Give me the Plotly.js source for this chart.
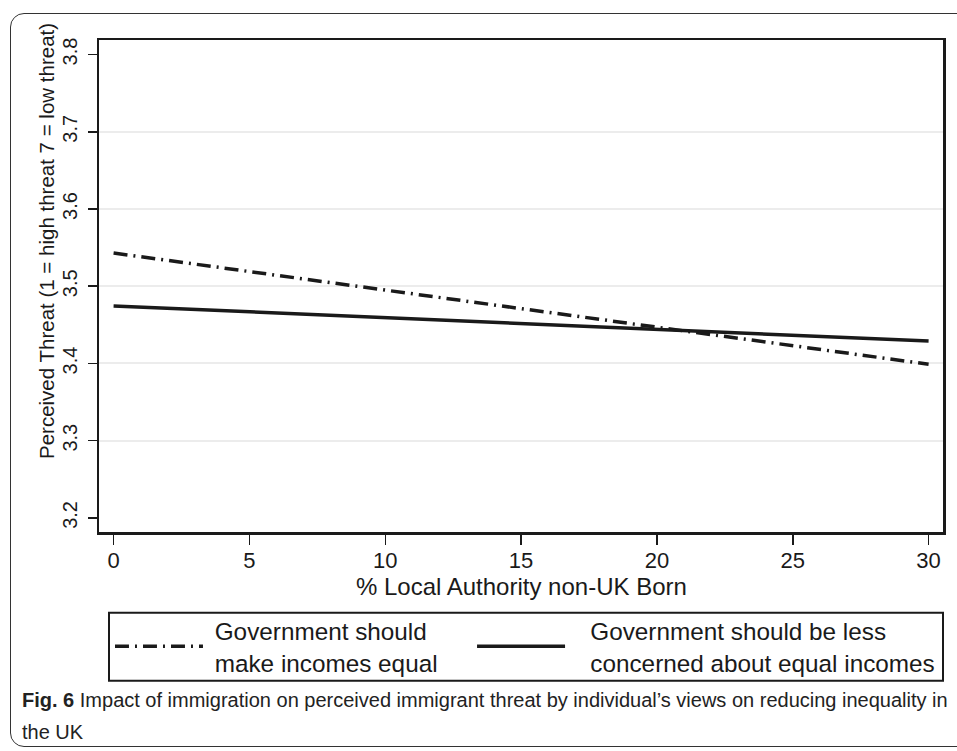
<!DOCTYPE html>
<html>
<head>
<meta charset="utf-8">
<script src="https://cdn.plot.ly/plotly-3.0.1.min.js"></script>
<style>
  html, body { margin: 0; padding: 0; background: #fff; }
  #wrap { position: relative; width: 957px; height: 751px; overflow: hidden; }
  #chart { position: absolute; left: 0; top: 0; width: 957px; height: 751px; }
  #frame { position: absolute; left: 10px; top: 13px; width: 1000px; height: 732px;
           border: 1.5px solid #333; border-radius: 14px; pointer-events: none; }
</style>
</head>
<body>
<div id="wrap">
  <div id="chart"></div>
  <div id="frame"></div>
</div>
<script>
// ---- data ----
const xPct = [0, 30];
const govEqual = [3.543, 3.399];
const govLess = [3.4745, 3.429];
const seriesNames = ["\u00a0Government should<br>\u00a0make incomes equal",
                     "\u00a0\u00a0\u00a0Government should be less<br>\u00a0\u00a0\u00a0concerned about equal incomes"];
const yTicks = [3.2, 3.3, 3.4, 3.5, 3.6, 3.7, 3.8];
const yTickText = ["3.2", "3.3", "3.4", "3.5", "3.6", "3.7", "3.8"];
const yGrid = [3.3, 3.4, 3.5, 3.6, 3.7];
const xTicks = [0, 5, 10, 15, 20, 25, 30];

const FONT = "Liberation Sans, Arial, Helvetica, sans-serif";
const INK = "#1a1a1a";
const YR = [3.1818, 3.8188];

const traces = [
  { x: [], y: [], yaxis: "y2", type: "scatter", mode: "lines", showlegend: false, hoverinfo: "skip" },
  { x: xPct, y: govEqual, type: "scatter", mode: "lines", name: seriesNames[0], legend: "legend",
    line: { color: INK, width: 3.5, dash: "14px,6px,2px,6px" } },
  { x: xPct, y: govLess, type: "scatter", mode: "lines", name: seriesNames[1], legend: "legend2",
    line: { color: INK, width: 3.5 } }
];

const legendCommon = {
  orientation: "h", xanchor: "left", yanchor: "middle", y: -0.2331,
  borderwidth: 0, bgcolor: "rgba(0,0,0,0)",
  font: { family: FONT, size: 24.3, color: INK }, itemwidth: 88
};

const layout = {
  width: 957, height: 751,
  margin: { l: 99, r: 14, t: 40, b: 219 },
  paper_bgcolor: "#fff", plot_bgcolor: "#fff",
  font: { family: FONT, color: INK },
  showlegend: true,
  legend: Object.assign({}, legendCommon, { x: 0.0130 }),
  legend2: Object.assign({}, legendCommon, { x: 0.4420 }),
  xaxis: {
    range: [-0.537, 30.53], tickmode: "array", tickvals: xTicks, ticktext: xTicks.map(String),
    showgrid: false, zeroline: false,
    showline: true, linecolor: INK, linewidth: 2.5, mirror: true,
    ticks: "outside", ticklen: 10, tickwidth: 1.5, tickcolor: INK,
    ticklabelstandoff: -3,
    tickfont: { family: FONT, size: 22, color: INK },
    automargin: false, fixedrange: true
  },
  yaxis: {
    range: YR, tickmode: "array", tickvals: yTicks, ticktext: yTickText, tickangle: -90,
    showgrid: false, zeroline: false,
    showline: true, linecolor: INK, linewidth: 2.5, mirror: true,
    ticks: "outside", ticklen: 9, tickwidth: 1.5, tickcolor: INK,
    ticklabelstandoff: 3,
    tickfont: { family: FONT, size: 20, color: INK },
    automargin: false, fixedrange: true
  },
  yaxis2: {
    overlaying: "y", range: YR, tickmode: "array",
    tickvals: yGrid, showticklabels: false, ticks: "",
    showgrid: true, gridcolor: "#ececec", gridwidth: 2,
    showline: false, zeroline: false, fixedrange: true
  },
  shapes: [
    { type: "rect", xref: "paper", yref: "paper",
      x0: 0.01185, x1: 1.0, y0: -0.1640, y1: -0.3022,
      line: { color: INK, width: 2 }, fillcolor: "rgba(0,0,0,0)" }
  ],
  annotations: [
    { xref: "paper", yref: "paper", x: -0.0616, y: 0.5915, xanchor: "center", yanchor: "middle",
      textangle: -90, showarrow: false,
      text: "Perceived Threat (1 = high threat 7 = low threat)",
      font: { family: FONT, size: 20.5, color: INK } },
    { xref: "paper", yref: "paper", x: 0.5, y: -0.1115, xanchor: "center", yanchor: "middle",
      showarrow: false, text: "% Local Authority non-UK Born",
      font: { family: FONT, size: 24, color: INK } },
    { xref: "paper", yref: "paper", x: -0.0936, y: -0.3415, xanchor: "left", yanchor: "middle",
      showarrow: false, align: "left",
      text: "<b>Fig. 6</b> Impact of immigration on perceived immigrant threat by individual’s views on reducing inequality in",
      font: { family: FONT, size: 20, color: "#222" } },
    { xref: "paper", yref: "paper", x: -0.0936, y: -0.4065, xanchor: "left", yanchor: "middle",
      showarrow: false, align: "left", text: "the UK",
      font: { family: FONT, size: 20, color: "#222" } }
  ]
};

Plotly.newPlot("chart", traces, layout, { displayModeBar: false, staticPlot: true });
</script>
</body>
</html>
